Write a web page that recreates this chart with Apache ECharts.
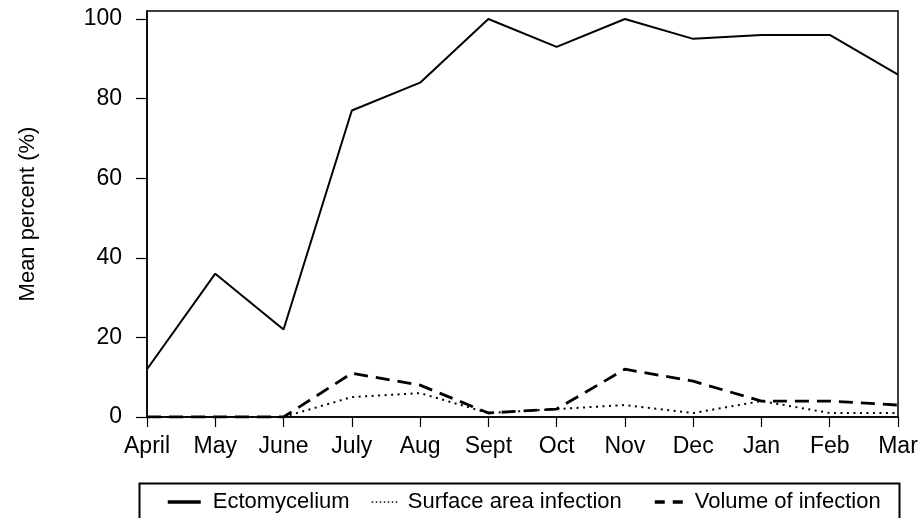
<!DOCTYPE html>
<html>
<head>
<meta charset="utf-8">
<script src="https://cdn.jsdelivr.net/npm/echarts@6/dist/echarts.min.js"></script>
<style>
  html, body { margin: 0; padding: 0; background: #fff; }
  #chart { width: 921px; height: 518px; }
</style>
</head>
<body>
<div id="chart"></div>
<script>
// Monthly sampling, April through March
const months = ['April', 'May', 'June', 'July', 'Aug', 'Sept', 'Oct', 'Nov', 'Dec', 'Jan', 'Feb', 'Mar'];

// Mean percent per month
const ectomycelium = [12, 36, 22, 77, 84, 100, 93, 100, 95, 96, 96, 86];
const surfaceAreaInfection = [0, 0, 0, 5, 6, 1, 2, 3, 1, 4, 1, 1];
const volumeOfInfection = [0, 0, 0, 11, 8, 1, 2, 12, 9, 4, 4, 3];

// Labelled y-axis ticks
const yTicks = [0, 20, 40, 60, 80, 100];

const seriesNames = ['Ectomycelium', 'Surface area infection', 'Volume of infection'];

const FONT = '"Liberation Sans", Arial, Helvetica, sans-serif';

const chart = echarts.init(document.getElementById('chart'), null, { renderer: 'canvas' });

const legendText = { fontSize: 22, color: '#000', fontFamily: FONT };

// Legend keys show only the line sample, no marker
const legendCommon = {
  orient: 'horizontal',
  top: 491,
  padding: 0,
  itemHeight: 22,
  itemGap: 0,
  selectedMode: false,
  itemStyle: { opacity: 0, borderWidth: 0 }
};

chart.setOption({
  animation: false,
  backgroundColor: '#fff',
  grid: {
    left: 147,
    right: 23,
    top: 11,
    bottom: 101,
    show: true,
    borderColor: '#000',
    borderWidth: 1.5,
    backgroundColor: 'transparent'
  },
  xAxis: {
    type: 'category',
    data: months,
    boundaryGap: false,
    axisLine: { show: true, onZero: false, lineStyle: { color: '#000', width: 1.5 } },
    axisTick: { show: true, length: 10, interval: 0, lineStyle: { color: '#000', width: 1.2 } },
    axisLabel: { interval: 0, margin: 18, fontSize: 23, color: '#000', fontFamily: FONT },
    splitLine: { show: false }
  },
  yAxis: {
    type: 'value',
    min: 0,
    max: 102,
    interval: 20,
    name: 'Mean percent (%)',
    nameLocation: 'middle',
    nameGap: 108,
    nameTextStyle: { fontSize: 22, color: '#000', fontFamily: FONT },
    axisLine: { show: true, lineStyle: { color: '#000', width: 1.5 } },
    axisTick: { show: true, length: 11, customValues: yTicks, lineStyle: { color: '#000', width: 1.2 } },
    axisLabel: { customValues: yTicks, margin: 25, fontSize: 23, color: '#000', fontFamily: FONT },
    splitLine: { show: false }
  },
  legend: [
    Object.assign({}, legendCommon, {
      left: 166, itemWidth: 33, data: [seriesNames[0]],
      textStyle: Object.assign({}, legendText, { padding: [0, 0, 0, 7] }),
      lineStyle: { width: 3.5, type: 'solid', color: '#000' }
    }),
    Object.assign({}, legendCommon, {
      left: 371, itemWidth: 27, data: [seriesNames[1]],
      textStyle: Object.assign({}, legendText, { padding: [0, 0, 0, 4] }),
      lineStyle: { width: 1.5, type: [1.5, 2.5], color: '#000' }
    }),
    Object.assign({}, legendCommon, {
      left: 653, itemWidth: 28, data: [seriesNames[2]],
      textStyle: Object.assign({}, legendText, { padding: [0, 0, 0, 7] }),
      lineStyle: { width: 3.5, type: [10, 8], color: '#000' }
    })
  ],
  graphic: [
    {
      type: 'rect',
      left: 137,
      top: 481,
      shape: { width: 760, height: 60 },
      style: { fill: 'none', stroke: '#000', lineWidth: 2 },
      silent: true,
      z: 10
    }
  ],
  series: [
    {
      name: seriesNames[0],
      type: 'line',
      data: ectomycelium,
      symbol: 'none',
      lineStyle: { color: '#000', width: 2, type: 'solid' },
      itemStyle: { color: '#000' },
      z: 3
    },
    {
      name: seriesNames[1],
      type: 'line',
      data: surfaceAreaInfection,
      symbol: 'none',
      lineStyle: { color: '#000', width: 2, type: [2, 4.5] },
      itemStyle: { color: '#000' },
      z: 4
    },
    {
      name: seriesNames[2],
      type: 'line',
      data: volumeOfInfection,
      symbol: 'none',
      lineStyle: { color: '#000', width: 2.8, type: [14, 8] },
      itemStyle: { color: '#000' },
      z: 5
    }
  ]
});
</script>
</body>
</html>
